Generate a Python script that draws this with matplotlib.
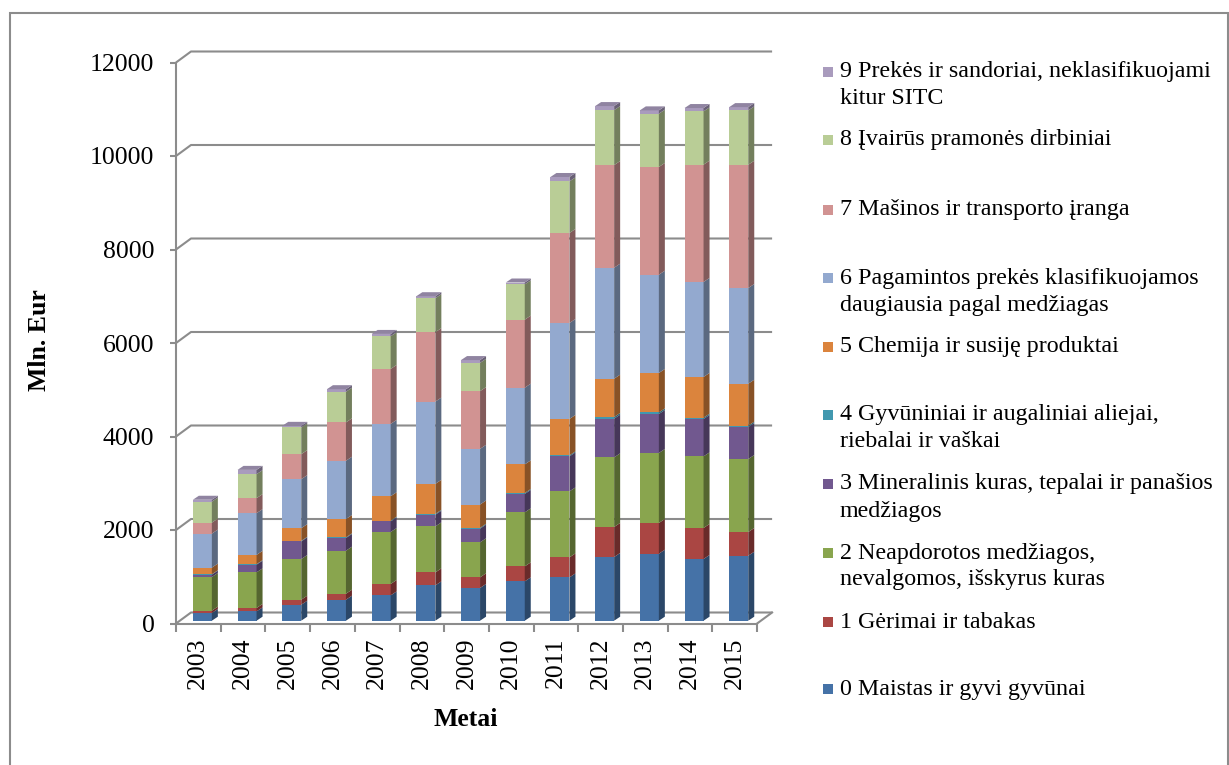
import matplotlib.pyplot as plt
from matplotlib.patches import Polygon, Rectangle
from matplotlib.colors import to_rgb

plt.rcParams['font.family'] = ['Liberation Serif', 'DejaVu Serif']

years = ["2003", "2004", "2005", "2006", "2007", "2008", "2009",
         "2010", "2011", "2012", "2013", "2014", "2015"]

maistas = [165, 199, 342, 449, 541, 755, 700, 841, 926, 1363, 1433, 1320, 1390]
gerimai = [50, 73, 107, 128, 244, 278, 227, 321, 428, 642, 657, 663, 507]
neapdorotos = [720, 762, 870, 920, 1112, 984, 749, 1155, 1412, 1489, 1497, 1532, 1561]
kuras = [50, 165, 377, 272, 227, 250, 293, 394, 749, 828, 834, 800, 685]
aliejai = [8, 10, 12, 14, 16, 18, 18, 20, 21, 36, 34, 28, 28]
chemija = [143, 199, 271, 391, 522, 642, 498, 612, 779, 819, 843, 871, 898]
pagamintos = [727, 892, 1048, 1247, 1547, 1760, 1191, 1641, 2053, 2374, 2103, 2032, 2047]
masinos = [235, 321, 535, 821, 1176, 1484, 1234, 1455, 1925, 2195, 2304, 2509, 2637]
ivairus = [449, 513, 571, 655, 699, 727, 605, 755, 1104, 1176, 1140, 1140, 1162]
kitos = [40, 92, 35, 55, 50, 43, 60, 40, 94, 86, 71, 71, 71]

serijos = [maistas, gerimai, neapdorotos, kuras, aliejai,
           chemija, pagamintos, masinos, ivairus, kitos]
spalvos = ["#4572A7", "#AA4643", "#89A54E", "#71588F", "#4198AF",
           "#DB843D", "#93A9CF", "#D19392", "#B9CD96", "#A99BBD"]

legendos = [
    ["0 Maistas ir gyvi gyvūnai"],
    ["1 Gėrimai ir tabakas"],
    ["2 Neapdorotos medžiagos,", "nevalgomos, išskyrus kuras"],
    ["3 Mineralinis kuras, tepalai ir panašios", "medžiagos"],
    ["4 Gyvūniniai ir augaliniai aliejai,", "riebalai ir vaškai"],
    ["5 Chemija ir susiję produktai"],
    ["6 Pagamintos prekės klasifikuojamos", "daugiausia pagal medžiagas"],
    ["7 Mašinos ir transporto įranga"],
    ["8 Įvairūs pramonės dirbiniai"],
    ["9 Prekės ir sandoriai, neklasifikuojami", "kitur SITC"],
]
legendos_y = [689, 622, 553, 484, 415, 347, 278, 210, 140, 72]

W, H = 1229, 765
fig = plt.figure(figsize=(W / 100, H / 100), dpi=100)

# pixel mapping of the plot area
PX_X0, PX_CAT = 176, 44.7
PX_Y0, PX_V = 623.5, 0.04675
L, R, T, B = 160, 790, 40, 640
ax = fig.add_axes([L / W, 1 - B / H, (R - L) / W, (B - T) / H])
ax.set_xlim(-0.5 + (L - PX_X0) / PX_CAT, -0.5 + (R - PX_X0) / PX_CAT)
ax.set_ylim((PX_Y0 - B) / PX_V, (PX_Y0 - T) / PX_V)

pilka = "#8c8c8c"
DX, DY = 15 / PX_CAT, 11 / PX_V

# back wall gridlines
for v in range(0, 12001, 2000):
    ax.plot([-0.5, -0.5 + DX, 12.5 + DX], [v, v + DY, v + DY],
            color=pilka, lw=1.5, zorder=1, solid_capstyle="butt")
ax.plot([12.5, 12.5 + DX], [0, DY], color=pilka, lw=1.5, zorder=1)

# bars
bar_w = 19 / PX_CAT
bar_off = 4 / PX_CAT
base = 60
sdx, sdy = 6 / PX_CAT, 4 / PX_V


def tamsiau(c, k):
    r, g, b = to_rgb(c)
    return (r * k, g * k, b * k)


for i in range(len(years)):
    xl = i + bar_off - bar_w / 2
    xr = xl + bar_w
    bottom = base
    for s, col in zip(serijos, spalvos):
        top = bottom + s[i]
        ax.add_patch(Rectangle((xl, bottom), bar_w, s[i], facecolor=col,
                               edgecolor="none", zorder=3))
        ax.add_patch(Polygon([(xr, bottom), (xr + sdx, bottom + sdy),
                              (xr + sdx, top + sdy), (xr, top)],
                             closed=True, facecolor=tamsiau(col, 0.62),
                             edgecolor="none", zorder=3))
        bottom = top
    ax.add_patch(Polygon([(xl, bottom), (xl + sdx, bottom + sdy),
                          (xr + sdx, bottom + sdy), (xr, bottom)],
                         closed=True, facecolor=tamsiau(spalvos[-1], 0.85),
                         edgecolor="none", zorder=3))

# axes
for side in ["top", "right"]:
    ax.spines[side].set_visible(False)
ax.spines["left"].set_position(("data", -0.5))
ax.spines["left"].set_bounds(0, 12000)
ax.spines["bottom"].set_position(("data", 0))
ax.spines["bottom"].set_bounds(-0.5, 12.5)
for side in ["left", "bottom"]:
    ax.spines[side].set_color(pilka)
    ax.spines[side].set_linewidth(1.5)

ax.set_yticks(range(0, 12001, 2000))
ax.tick_params(axis="y", length=4.5, width=1.5, color=pilka, pad=11,
               labelsize=18.5)
ax.set_xticks(range(len(years)))
ax.set_xticklabels(years, rotation=90)
ax.set_xticks([x - 0.5 for x in range(len(years) + 1)], minor=True)
ax.tick_params(axis="x", which="major", length=0, pad=10, labelsize=18.5)
ax.tick_params(axis="x", which="minor", length=6, width=1.5, color=pilka)

fig.text(40 / W, 1 - 340 / H, "Mln. Eur", rotation=90, fontsize=18.5,
         fontweight="bold", ha="center", va="center")
fig.text(466 / W, 1 - 720 / H, "Metai", fontsize=18.5, fontweight="bold",
         ha="center", va="center")

# legend
for eil, y, col in zip(legendos, legendos_y, spalvos):
    fig.patches.append(Rectangle((823 / W, 1 - (y + 5) / H), 10 / W, 10 / H,
                                 transform=fig.transFigure, facecolor=col,
                                 edgecolor="none"))
    for k, t in enumerate(eil):
        fig.text(840 / W, 1 - (y + 27 * k) / H, t, fontsize=17.3,
                 ha="left", va="center")

# outer frame
fig.patches.append(Rectangle((10 / W, -0.05), 1218 / W, 1.05 - 13 / H,
                             transform=fig.transFigure, facecolor="none",
                             edgecolor="#8c8c8c", lw=1.5))

fig.savefig("out.png", dpi=100)
